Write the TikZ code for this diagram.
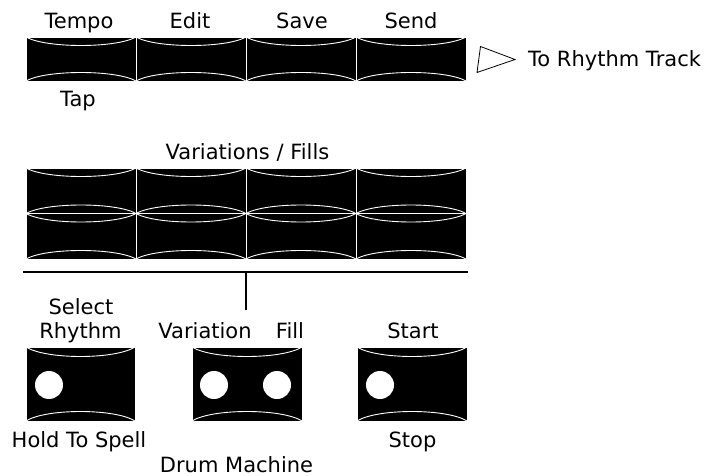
\documentclass[tikz,border=0pt]{standalone}
\usepackage{fontspec}
\setmainfont{DejaVu Sans}
\begin{document}
\begin{tikzpicture}[x=1pt,y=-1pt,
  lbl/.style={anchor=base, inner sep=0pt, font=\fontsize{21}{25}\selectfont},
  sag/.store in=\padsag, sag=8.5pt,
  pad/.style={rectangle, fill=black, draw=white, line width=0.9pt, inner sep=0pt,
    minimum width=110pt, minimum height=#1,
    path picture={
      \draw[white, line width=0.9pt] (path picture bounding box.north west)
        .. controls ([xshift=20pt,yshift=-1.333*\padsag]path picture bounding box.north west)
        and ([xshift=-20pt,yshift=-1.333*\padsag]path picture bounding box.north east)
        .. (path picture bounding box.north east);
      \draw[white, line width=0.9pt] (path picture bounding box.south west)
        .. controls ([xshift=20pt,yshift=1.333*\padsag]path picture bounding box.south west)
        and ([xshift=-20pt,yshift=1.333*\padsag]path picture bounding box.south east)
        .. (path picture bounding box.south east);
    }},
  led/.style={circle, fill=white, draw=none, minimum size=28pt, inner sep=0pt},
  rule/.style={draw=black, line width=1.3pt}
]
\useasboundingbox (0,0) rectangle (713,476);

% top row
\node[pad=44pt] (t1) at (81,59) {};
\node[pad=44pt] (t2) at (191,59) {};
\node[pad=44pt] (t3) at (301,59) {};
\node[pad=44pt] (t4) at (411,59) {};
\node[lbl] (tempo) at (79,29) {Tempo};
\node[lbl] (edit) at (190,29) {Edit};
\node[lbl] (save) at (302,29) {Save};
\node[lbl] (send) at (411,29) {Send};
\node[lbl] (tap) at (78,107) {Tap};

% arrow to rhythm track
\draw[black, line width=0.8pt, line join=miter] (480.5,46.5) -- (515,59.5) -- (477,72.5) -- cycle;
\node[lbl, anchor=base west] (track) at (528,67) {To Rhythm Track};

% variations grid
\node[lbl] (varfill) at (247.5,160) {Variations / Fills};
\node[pad=45.5pt] (g11) at (81,190.75) {};
\node[pad=45.5pt] (g12) at (191,190.75) {};
\node[pad=45.5pt] (g13) at (301,190.75) {};
\node[pad=45.5pt] (g14) at (411,190.75) {};
\node[pad=45.5pt] (g21) at (81,236.25) {};
\node[pad=45.5pt] (g22) at (191,236.25) {};
\node[pad=45.5pt] (g23) at (301,236.25) {};
\node[pad=45.5pt] (g24) at (411,236.25) {};

% divider
\coordinate (hl) at (23,272);
\coordinate (hr) at (468,272);
\coordinate (hm) at (246,272);
\coordinate (vb) at (246,310);
\draw[rule] (hl) -- (hr);
\draw[rule] (hm) -- (vb);

% bottom buttons
\begin{scope}[sag=9.5pt]
\node[pad=74pt, minimum width=109pt] (b1) at (80.5,384) {};
\node[pad=74pt] (b2) at (247,384) {};
\node[pad=74pt] (b3) at (412,384) {};
\end{scope}
\node[led] (l1) at (49,385) {};
\node[led] (l2) at (214,385) {};
\node[led] (l3) at (277,385) {};
\node[led] (l4) at (380,385) {};

\node[lbl] (select) at (81,314) {Select};
\node[lbl] (rhythm) at (80.5,338) {Rhythm};
\node[lbl] (variation) at (205,338) {Variation};
\node[lbl] (fill) at (290,338) {Fill};
\node[lbl] (start) at (413,338) {Start};
\node[lbl] (hold) at (79,447) {Hold To Spell};
\node[lbl] (stop) at (412.5,447) {Stop};
\node[lbl] (drum) at (236.5,472) {Drum Machine};
\end{tikzpicture}
\end{document}
